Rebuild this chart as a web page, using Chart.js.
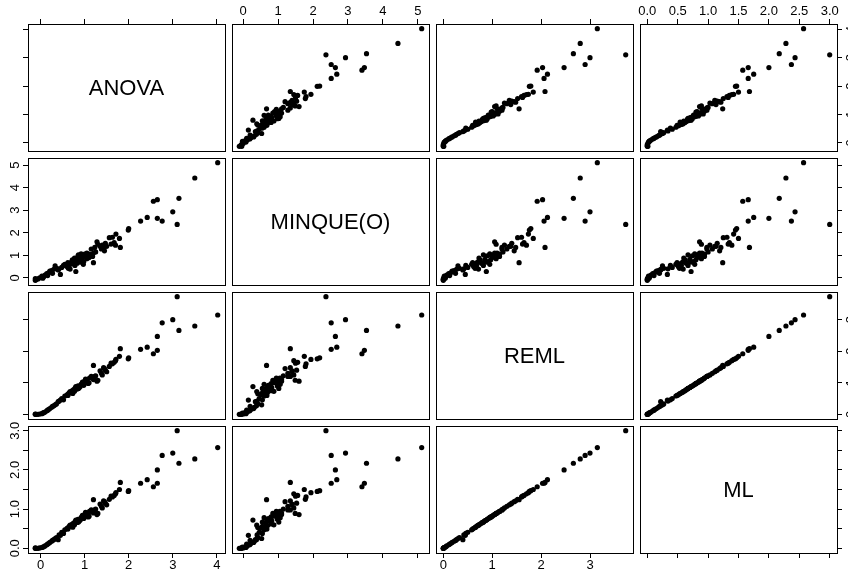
<!DOCTYPE html>
<html>
<head>
<meta charset="utf-8">
<script src="https://cdn.jsdelivr.net/npm/chart.js@4.4.0/dist/chart.umd.min.js"></script>
<style>
  html, body { margin: 0; padding: 0; background: #fff; overflow: hidden; }
  #wrap { position: relative; width: 848px; height: 571px; overflow: hidden; }
  #wrap canvas { position: absolute; }
</style>
</head>
<body>
<div id="wrap"></div>
<script>
// variable names on the diagonal
const varNames = ["ANOVA", "MINQUE(O)", "REML", "ML"];

// one value per simulated data set
const anova = [4.02, 3.50, 3.10, 3.00, 3.14, 2.76, 2.65, 2.65, 2.56, 2.42,
  2.27, 2.00, 1.99, 1.81, 1.79, 1.71, 1.63, 1.70, 1.67, 1.47,
  1.20, 1.56, 1.28, 1.30, 1.23, 1.43, 1.50, 1.38, 1.11, 1.00,
  0.92, 0.85, 1.20, 1.05, 1.10, 0.94, 0.98, 0.75, 0.70, 0.78,
  0.48, 0.42, 0.33, 0.36, 0.30, 0.25, 0.21, 0.18, 0.14, 0.10,
  0.07, 0.03, -0.02, -0.06, -0.10, -0.12, -0.12, 0.67, 0.55, 0.60,
  0.62, 0.80, 0.65, 0.80, 0.83, 0.88, 0.90, 0.95, 1.02, 1.08,
  1.15, 1.35, 1.40, 1.25, 0.72, 0.52, 0.45, 0.40, 0.86, 0.77,
  0.63, 1.05, 0.97, 1.18, 0.27, 0.16, 0.05, 1.60, 1.45, 0.73];

const minque = [5.11, 4.43, 2.37, 2.93, 3.53, 2.52, 2.64, 3.47, 3.40, 2.68,
  2.52, 2.19, 2.12, 1.35, 1.75, 1.94, 1.80, 1.45, 1.56, 1.53,
  0.67, 1.78, 1.60, 1.49, 1.35, 1.35, 1.40, 1.28, 1.05, 1.05,
  1.06, 0.98, 1.10, 0.85, 0.90, 0.80, 0.72, 0.65, 0.70, 0.55,
  0.46, 0.40, 0.53, 0.42, 0.38, 0.32, 0.30, 0.22, 0.19, 0.12,
  0.05, 0.08, 0.00, -0.05, -0.08, -0.11, -0.04, 0.39, 0.60, 0.50,
  0.68, 0.28, 0.55, 0.75, 0.65, 0.82, 0.70, 0.95, 0.95, 1.00,
  1.28, 1.40, 1.45, 1.15, 0.80, 0.55, 0.15, 0.35, 1.02, 0.88,
  0.42, 1.10, 0.60, 0.95, 0.20, 0.10, -0.02, 1.50, 1.20, 0.62];

const reml = [3.15, 2.80, 3.73, 3.00, 2.66, 2.90, 2.47, 2.03, 1.92, 2.13,
  2.06, 1.79, 1.76, 2.08, 1.84, 1.74, 1.60, 1.70, 1.65, 1.40,
  1.55, 1.52, 1.05, 1.08, 1.20, 1.48, 1.35, 1.30, 1.15, 1.05,
  0.95, 0.90, 1.10, 1.08, 1.00, 0.97, 0.92, 0.78, 0.70, 0.82,
  0.50, 0.42, 0.30, 0.33, 0.27, 0.22, 0.18, 0.15, 0.11, 0.07,
  0.05, 0.02, 0.01, 0.00, 0.00, 0.00, 0.01, 0.72, 0.58, 0.62,
  0.60, 0.88, 0.68, 0.85, 0.80, 0.85, 0.88, 1.02, 1.12, 0.98,
  1.20, 1.38, 1.25, 1.22, 0.75, 0.46, 0.45, 0.40, 0.82, 0.73,
  0.65, 1.05, 0.95, 1.15, 0.25, 0.13, 0.04, 1.62, 1.45, 0.66];

const ml = [2.57, 2.28, 3.00, 2.43, 2.17, 2.37, 2.00, 1.66, 1.57, 1.75,
  1.66, 1.47, 1.45, 1.68, 1.50, 1.42, 1.31, 1.39, 1.35, 1.15,
  1.24, 1.25, 0.86, 0.89, 0.98, 1.21, 1.11, 1.07, 0.94, 0.86,
  0.78, 0.74, 0.90, 0.89, 0.82, 0.80, 0.76, 0.64, 0.58, 0.67,
  0.41, 0.34, 0.25, 0.27, 0.22, 0.18, 0.15, 0.12, 0.09, 0.06,
  0.04, 0.02, 0.01, 0.00, 0.00, 0.00, 0.01, 0.59, 0.47, 0.51,
  0.49, 0.72, 0.56, 0.70, 0.66, 0.70, 0.72, 0.84, 0.92, 0.80,
  0.98, 1.13, 1.03, 1.00, 0.62, 0.38, 0.33, 0.22, 0.67, 0.60,
  0.53, 0.86, 0.78, 0.94, 0.20, 0.11, 0.03, 1.33, 1.19, 0.54];

// axis ticks for each variable
const tickValues = [
  [0, 1, 2, 3, 4],
  [0, 1, 2, 3, 4, 5],
  [0, 1, 2, 3],
  [0, 0.5, 1, 1.5, 2, 2.5, 3]
];
const tickLabels = [
  ["0", "1", "2", "3", "4"],
  ["0", "1", "2", "3", "4", "5"],
  ["0", "1", "2", "3"],
  ["0.0", "0.5", "1.0", "1.5", "2.0", "2.5", "3.0"]
];
// vertical axes drop every other ML label
const sideLabels = [
  ["0", "1", "2", "3", "4"],
  ["0", "1", "2", "3", "4", "5"],
  ["0", "1", "2", "3"],
  ["0.0", "", "1.0", "", "2.0", "", "3.0"]
];

const vars = [anova, minque, reml, ml];

// panel grid
const colLeft = [28, 232, 436, 640];
const rowTop = [24, 158, 292, 426];
const panelW = 197;
const panelH = 127;
const pad = 32;
const FONT = "'Liberation Sans', Arial, sans-serif";

// R style: data range plus 4% on each side
function dataRange(arr) {
  const lo = Math.min(...arr), hi = Math.max(...arr);
  const d = (hi - lo) * 0.04;
  return [lo - d, hi + d];
}
const ranges = vars.map(dataRange);

function makeAxis(position, v, showTicks, showLabels) {
  const horiz = position === "top" || position === "bottom";
  return {
    type: "linear",
    position: position,
    min: ranges[v][0],
    max: ranges[v][1],
    display: true,
    afterBuildTicks: s => { s.ticks = tickValues[v].map(t => ({ value: t })); },
    afterFit: s => { if (horiz) s.height = pad; else s.width = pad; },
    grid: { display: true, drawOnChartArea: false, drawTicks: showTicks, tickLength: 5, color: "#000", lineWidth: 1 },
    border: { display: true, color: "#000", width: 1 },
    ticks: {
      display: horiz && showLabels,
      autoSkip: false,
      maxRotation: 0,
      minRotation: 0,
      padding: 0,
      color: "#000",
      font: { family: FONT, size: 13 },
      callback: (val, i) => tickLabels[v][i]
    }
  };
}

// rotated labels on the left / right axes
const yLabelsPlugin = {
  id: "yLabels",
  afterDraw(chart, args, opts) {
    if (!opts.sides || !opts.sides.length) return;
    const ctx = chart.ctx;
    const area = chart.chartArea;
    ctx.save();
    ctx.fillStyle = "#000";
    ctx.font = "13px " + FONT;
    ctx.textAlign = "center";
    ctx.textBaseline = "alphabetic";
    opts.sides.forEach(side => {
      const scale = chart.scales[side === "left" ? "y" : "y2"];
      const x = side === "left" ? area.left - 9 : area.right + 18;
      tickValues[opts.v].forEach((t, i) => {
        const lab = sideLabels[opts.v][i];
        if (!lab) return;
        const y = scale.getPixelForValue(t);
        ctx.save();
        ctx.translate(x, y);
        ctx.rotate(-Math.PI / 2);
        ctx.fillText(lab, 0, 0);
        ctx.restore();
      });
    });
    ctx.restore();
  }
};

// variable name in the diagonal panels
const diagPlugin = {
  id: "diagLabel",
  afterDraw(chart, args, opts) {
    if (!opts.text) return;
    const ctx = chart.ctx;
    const a = chart.chartArea;
    ctx.save();
    ctx.fillStyle = "#000";
    ctx.font = "22px " + FONT;
    ctx.textAlign = "center";
    ctx.textBaseline = "middle";
    ctx.fillText(opts.text, (a.left + a.right) / 2, (a.top + a.bottom) / 2 + 1);
    ctx.restore();
  }
};

const wrap = document.getElementById("wrap");

for (let i = 0; i < 4; i++) {
  for (let j = 0; j < 4; j++) {
    const canvas = document.createElement("canvas");
    canvas.width = panelW + 2 * pad;
    canvas.height = panelH + 2 * pad;
    canvas.style.width = canvas.width + "px";
    canvas.style.height = canvas.height + "px";
    canvas.style.left = (colLeft[j] - pad) + "px";
    canvas.style.top = (rowTop[i] - pad) + "px";
    wrap.appendChild(canvas);

    const points = i === j ? [] : vars[j].map((x, k) => ({ x: x, y: vars[i][k] }));

    const ySides = [];
    if (j === 0 && (i === 1 || i === 3)) ySides.push("left");
    if (j === 3 && (i === 0 || i === 2)) ySides.push("right");

    new Chart(canvas, {
      type: "scatter",
      data: {
        datasets: [{
          data: points,
          pointRadius: 2.6,
          pointBackgroundColor: "#000",
          pointBorderWidth: 0,
          showLine: false
        }]
      },
      options: {
        responsive: false,
        animation: false,
        devicePixelRatio: 1,
        events: [],
        layout: { padding: 0 },
        scales: {
          x: makeAxis("bottom", j, i === 3, i === 3 && (j === 0 || j === 2)),
          x2: makeAxis("top", j, i === 0, i === 0 && (j === 1 || j === 3)),
          y: makeAxis("left", i, j === 0, false),
          y2: makeAxis("right", i, j === 3, false)
        },
        plugins: {
          legend: { display: false },
          tooltip: { enabled: false },
          yLabels: { sides: ySides, v: i },
          diagLabel: { text: i === j ? varNames[i] : "" }
        }
      },
      plugins: [yLabelsPlugin, diagPlugin]
    });
  }
}
</script>
</body>
</html>
